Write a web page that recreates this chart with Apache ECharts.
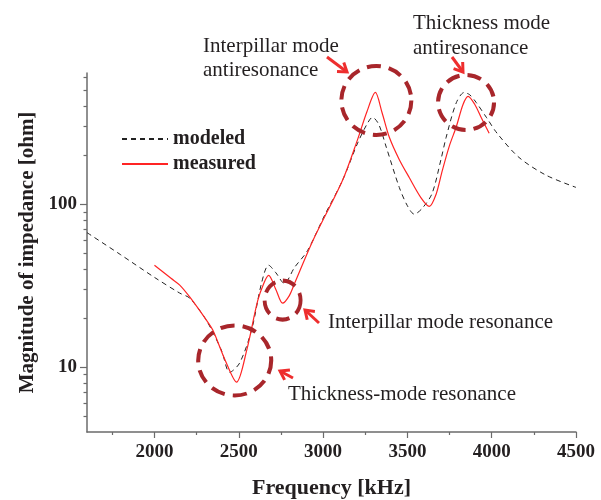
<!DOCTYPE html>
<html>

<head>
    <meta charset="utf-8">
    <title>impedance</title>
    <script src="https://cdn.jsdelivr.net/npm/echarts@6/dist/echarts.min.js"></script>
</head>

<body style="margin:0">
    <div id="main" style="height: 500px; width: 601px;"></div>
    <script type="text/javascript">
    // frequency [kHz] / impedance [ohm]
    var modeledFreq = [1600, 1800, 2000, 2150, 2210, 2300, 2346, 2400, 2446, 2505, 2576, 2635, 2677, 2720, 2770, 2831, 2908, 3010, 3115, 3203, 3260, 3293, 3330, 3375, 3452, 3500, 3541, 3590, 3647, 3700, 3730, 3790, 3837, 3870, 3908, 3970, 4032, 4162, 4322, 4500];
    var modeledZ = [67, 49, 35.6, 28.5, 26.5, 20, 16.4, 12.5, 9.3, 10.6, 16.9, 32.8, 42.3, 38, 32.7, 41, 52, 86, 140, 235, 310, 342, 310, 224, 127, 98, 87, 95, 117, 190, 258, 420, 486, 470, 422, 340, 273, 194, 151, 127];

    var measuredFreq = [2000, 2100, 2150, 2210, 2300, 2346, 2420, 2487, 2547, 2612, 2650, 2677, 2720, 2760, 2800, 2831, 2940, 3115, 3203, 3260, 3310, 3350, 3393, 3450, 3511, 3580, 3630, 3670, 3707, 3750, 3789, 3830, 3860, 3900, 3937, 3985];
    var measuredZ = [42.3, 35, 31.9, 26.9, 20, 16.9, 11, 8.1, 12.7, 25.5, 33, 36.6, 30, 24.7, 27.5, 32.7, 60, 140, 247, 370, 486, 365, 258, 190, 146, 110, 97, 115, 161, 230, 297, 410, 460, 410, 342, 273];

    var xLabels = [2000, 2500, 3000, 3500, 4000, 4500];
    var xMinor = [1750, 2250, 2750, 3250, 3750, 4250];
    var yLabels = [10, 100];
    var yMinor = [5, 6, 7, 8, 9, 20, 30, 40, 50, 60, 70, 80, 90, 200, 300, 400, 500, 600];

    // dashed circles: centre [kHz, ohm] and size [px]
    var circleCenters = [[2476, 11.0], [2760, 25.8], [3316, 434], [3848, 422]];
    var circleSizes = [[73, 70], [36, 39], [70, 69], [56, 55]];

    function zip(a, b) {
        return a.map(function (v, i) { return [v, b[i]]; });
    }

    var serif = '"Liberation Serif", "Times New Roman", serif';
    var ink = '#231f20';
    var axisGray = '#6b6b6b';
    var arrowRed = '#ee2e2e';

    function arrow(tail, tip) {
        var dx = tip[0] - tail[0], dy = tip[1] - tail[1];
        var len = Math.sqrt(dx * dx + dy * dy);
        var ux = dx / len, uy = dy / len;
        var h = 10, a = 0.6;
        var c = Math.cos(a), s = Math.sin(a);
        var p1 = [tip[0] - h * (ux * c - uy * s), tip[1] - h * (uy * c + ux * s)];
        var p2 = [tip[0] - h * (ux * c + uy * s), tip[1] - h * (uy * c - ux * s)];
        return [
            { type: 'polyline', shape: { points: [tail, tip] }, style: { stroke: arrowRed, lineWidth: 3, fill: null } },
            { type: 'polyline', shape: { points: [p1, tip, p2] }, style: { stroke: arrowRed, lineWidth: 3, fill: null, lineJoin: 'miter' } }
        ];
    }

    function note(text, x, y) {
        return { type: 'text', x: x, y: y, style: { text: text, fill: ink, font: 'normal 21px ' + serif, verticalAlign: 'middle' } };
    }

    var graphics = []
        .concat(arrow([327, 57], [347, 72]))
        .concat(arrow([452, 57], [463, 72]))
        .concat(arrow([319, 323], [305, 310]))
        .concat(arrow([293, 378], [280, 371]))
        .concat([
            note('Interpillar mode', 203, 46),
            note('antiresonance', 203, 70),
            note('Thickness mode', 413, 23),
            note('antiresonance', 413, 48),
            note('Interpillar mode resonance', 328, 322),
            note('Thickness-mode resonance', 288, 394)
        ]);

    function plain(v) { return String(v); }

    var myChart = echarts.init(document.getElementById('main'));
    var option = {
        animation: false,
        grid: { left: 87, right: 25, top: 73, bottom: 68, outerBoundsMode: 'none', containLabel: false },
        legend: {
            data: ['modeled', 'measured'],
            orient: 'vertical',
            left: 116,
            top: 124,
            itemWidth: 46,
            itemHeight: 12,
            itemGap: 5,
            itemStyle: { opacity: 0 },
            textStyle: { fontFamily: serif, fontWeight: 'bold', fontSize: 20, color: ink, lineHeight: 20 }
        },
        xAxis: [{
            type: 'value',
            min: 1600,
            max: 4500,
            position: 'bottom',
            name: 'Frequency [kHz]',
            nameLocation: 'middle',
            nameGap: 45,
            nameTextStyle: { fontFamily: serif, fontWeight: 'bold', fontSize: 22, color: ink },
            axisLine: { onZero: false, lineStyle: { color: axisGray, width: 1.5 } },
            axisTick: { customValues: xLabels, length: 6, lineStyle: { color: axisGray, width: 1.2 } },
            axisLabel: { customValues: xLabels, formatter: plain, margin: 11, fontFamily: serif, fontWeight: 'bold', fontSize: 19, color: ink },
            splitLine: { show: false }
        }, {
            type: 'value',
            min: 1600,
            max: 4500,
            position: 'bottom',
            axisLine: { show: false, onZero: false },
            axisTick: { customValues: xMinor, length: 3, lineStyle: { color: axisGray, width: 1.2 } },
            axisLabel: { show: false },
            splitLine: { show: false }
        }],
        yAxis: [{
            type: 'log',
            logBase: 10,
            min: 4,
            max: 640,
            position: 'left',
            name: 'Magnitude of impedance [ohm]',
            nameLocation: 'middle',
            nameGap: 47,
            nameTextStyle: { fontFamily: serif, fontWeight: 'bold', fontSize: 21, color: ink },
            axisLine: { show: true, lineStyle: { color: axisGray, width: 1.5 } },
            axisTick: { show: true, customValues: yLabels, length: 7, lineStyle: { color: axisGray, width: 1.2 } },
            axisLabel: { customValues: yLabels, formatter: plain, margin: 10, fontFamily: serif, fontWeight: 'bold', fontSize: 19, color: ink },
            splitLine: { show: false }
        }, {
            type: 'log',
            logBase: 10,
            min: 4,
            max: 640,
            position: 'left',
            axisLine: { show: false },
            axisTick: { show: true, customValues: yMinor, length: 3.5, lineStyle: { color: axisGray, width: 1.2 } },
            axisLabel: { show: false },
            splitLine: { show: false }
        }],
        series: [{
            name: 'modeled',
            type: 'line',
            data: zip(modeledFreq, modeledZ),
            showSymbol: false,
            symbol: 'none',
            smooth: 0.3,
            lineStyle: { color: '#222', width: 1, type: [5, 4] },
            itemStyle: { color: '#222' },
            z: 3
        }, {
            name: 'measured',
            type: 'line',
            data: zip(measuredFreq, measuredZ),
            showSymbol: false,
            symbol: 'none',
            smooth: 0.3,
            lineStyle: { color: '#ff2424', width: 1.2 },
            itemStyle: { color: '#ff2424' },
            z: 4
        }, {
            type: 'scatter',
            data: circleCenters.map(function (c, i) { return { value: c, symbolSize: circleSizes[i] }; }),
            symbol: 'circle',
            silent: true,
            itemStyle: { color: 'rgba(0,0,0,0)', opacity: 1, borderColor: '#a8262b', borderWidth: 4, borderType: [14, 8] },
            z: 5
        }],
        graphic: graphics
    };
    myChart.setOption(option);
    </script>
</body>

</html>
